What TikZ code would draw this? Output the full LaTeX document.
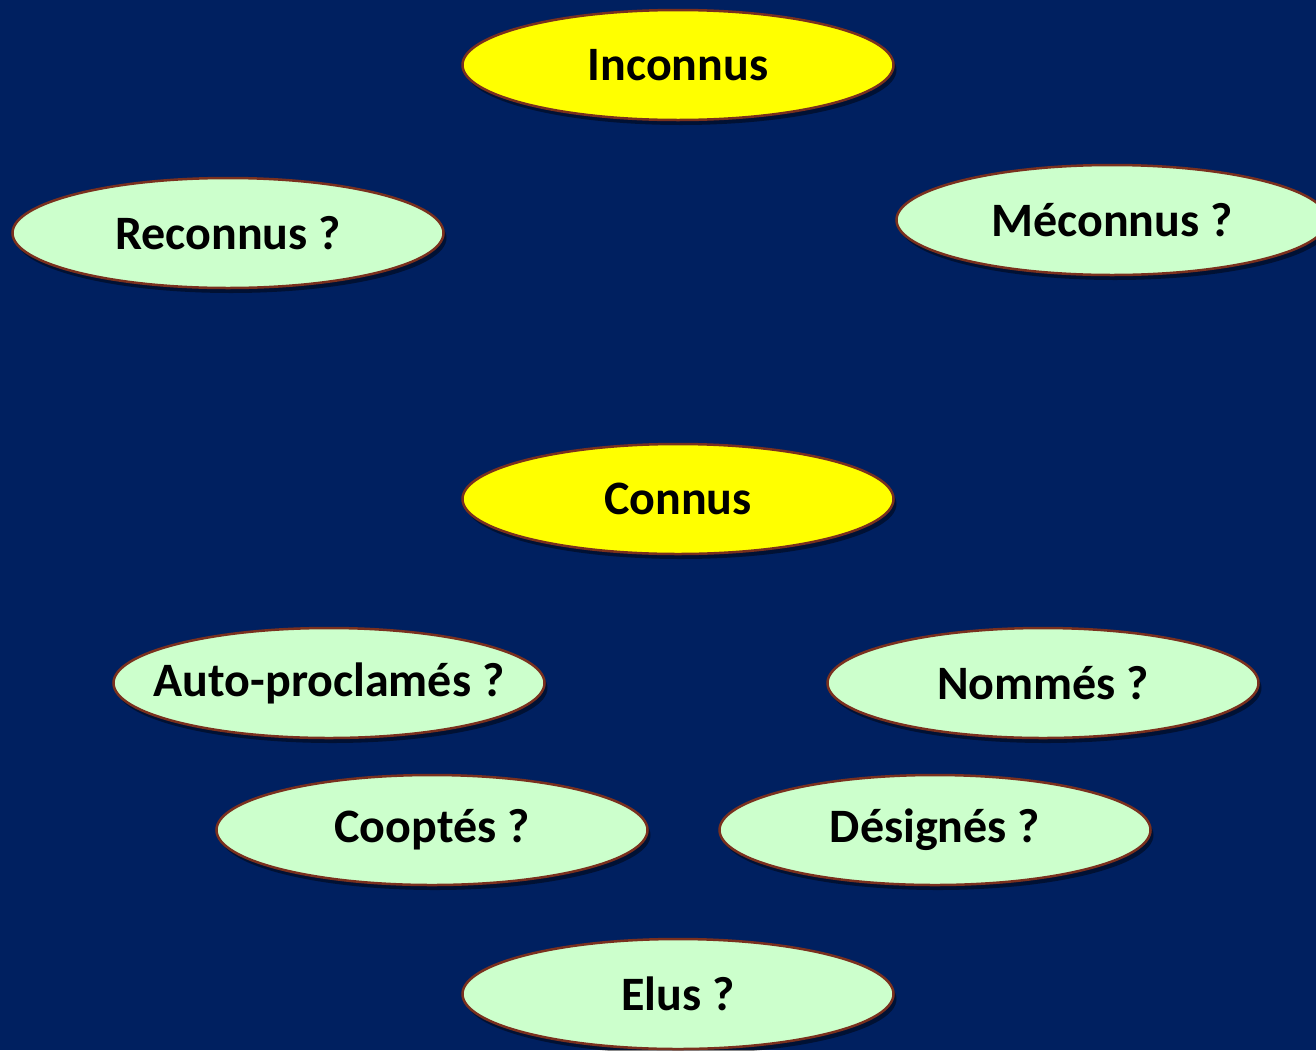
\documentclass[tikz,border=0pt]{standalone}
\usepackage{fontspec}
\setmainfont{Carlito}
\usetikzlibrary{shapes.geometric,shadows}
\definecolor{bgnavy}{RGB}{0,32,96}
\definecolor{ovyellow}{RGB}{255,255,0}
\definecolor{ovgreen}{RGB}{204,255,204}
\definecolor{ovborder}{RGB}{122,48,30}
\newcommand\ovtext[1]{\makebox[0pt]{#1}}
\tikzset{
  oval/.style={ellipse, draw=ovborder, line width=2.5pt, minimum width=431pt, minimum height=110pt, inner sep=0pt,
    font=\fontsize{48}{56}\selectfont\bfseries, text=black,
    drop shadow={shadow xshift=3pt, shadow yshift=-5pt, opacity=0.45, fill=black}},
  ovy/.style={oval, fill=ovyellow},
  ovg/.style={oval, fill=ovgreen}
}
\begin{document}
\begin{tikzpicture}[x=1pt,y=-1pt]
\useasboundingbox (0,0) rectangle (1316,1050);
\clip (0,0) rectangle (1316,1050);
\fill[bgnavy] (0,0) rectangle (1316,1050);
\node[ovy] (inconnus) at (678,65) {\ovtext{Inconnus}};
\node[ovg] (reconnus) at (228,233) {\ovtext{Reconnus ?}};
\node[ovg] (meconnus) at (1112,220) {\ovtext{Méconnus ?}};
\node[ovy] (connus) at (678,499) {\ovtext{Connus}};
\node[ovg] (auto) at (329,683) {\ovtext{Auto-proclamés ?}};
\node[ovg] (nommes) at (1043,683) {\ovtext{Nommés ?}};
\node[ovg] (cooptes) at (432,830) {\ovtext{Cooptés ?}};
\node[ovg] (designes) at (935,830) {\ovtext{Désignés ?}};
\node[ovg] (elus) at (678,994) {\ovtext{Elus ?}};
\end{tikzpicture}
\end{document}
